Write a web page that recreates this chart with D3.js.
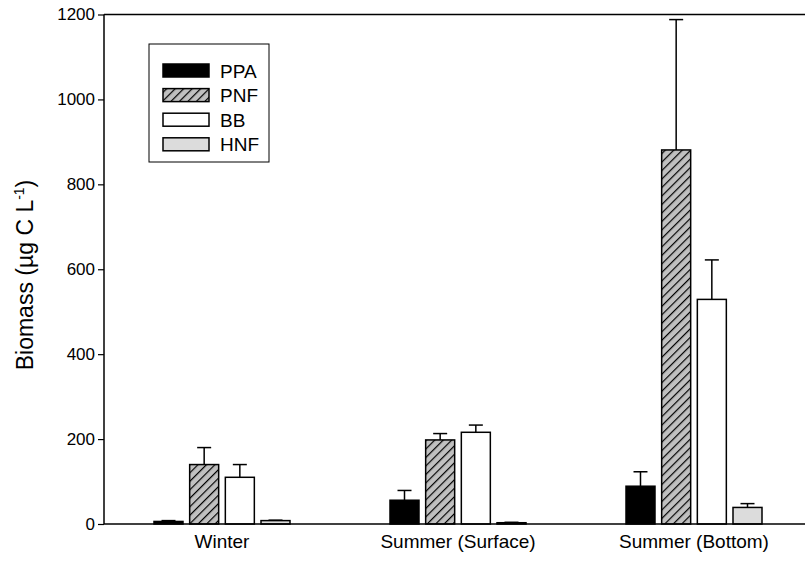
<!DOCTYPE html>
<html>
<head>
<meta charset="utf-8">
<script src="https://cdn.jsdelivr.net/npm/d3@7"></script>
<style>
  html, body { margin: 0; padding: 0; background: #fff; }
  svg { display: block; font-family: "Liberation Sans", Arial, sans-serif; }
</style>
</head>
<body>
<svg id="chart" width="805" height="566"></svg>
<script>
const categories = ["Winter", "Summer (Surface)", "Summer (Bottom)"];
const seriesNames = ["PPA", "PNF", "BB", "HNF"];
const valuesPPA = [6, 56, 89];
const valuesPNF = [140, 198, 881];
const valuesBB  = [110, 216, 529];
const valuesHNF = [8, 3, 39];
const errPPA = [2, 23, 34];
const errPNF = [40, 15, 307];
const errBB  = [30, 17, 93];
const errHNF = [1, 1, 9];
const yTicks = [0, 200, 400, 600, 800, 1000, 1200];

const seriesValues = [valuesPPA, valuesPNF, valuesBB, valuesHNF];
const seriesErrors = [errPPA, errPNF, errBB, errHNF];
const fills = ["#000000", "url(#hatch)", "#ffffff", "#dcdcdc"];

const svg = d3.select("#chart");
const defs = svg.append("defs");
const pat = defs.append("pattern")
  .attr("id", "hatch").attr("patternUnits", "userSpaceOnUse")
  .attr("width", 6).attr("height", 6)
  .attr("patternTransform", "rotate(45)");
pat.append("rect").attr("width", 6).attr("height", 6).attr("fill", "#c0c0c0");
pat.append("line").attr("x1", 0).attr("y1", 0).attr("x2", 0).attr("y2", 6)
  .attr("stroke", "#000").attr("stroke-width", 2.4);

const mLeft = 104, mRight = 812, mTop = 14.5, mBottom = 524;

const x = d3.scaleBand().domain(categories).range([mLeft, mRight]);
const xs = d3.scaleBand().domain(seriesNames).range([0, 136]).paddingInner(0.187);
const y = d3.scaleLinear().domain([0, 1200]).range([mBottom, mTop]);

const data = [];
categories.forEach((c, i) => {
  seriesNames.forEach((s, j) => {
    data.push({cat: c, s: s, j: j, v: seriesValues[j][i], e: seriesErrors[j][i]});
  });
});

const off = (x.bandwidth() - 136) / 2;

// error bars (upper only)
const eg = svg.append("g").attr("stroke", "#000").attr("stroke-width", 1.5);
data.forEach(d => {
  const cx = x(d.cat) + off + xs(d.s) + xs.bandwidth() / 2;
  eg.append("line").attr("x1", cx).attr("x2", cx)
    .attr("y1", y(d.v)).attr("y2", y(d.v + d.e));
  eg.append("line").attr("x1", cx - 7).attr("x2", cx + 7)
    .attr("y1", y(d.v + d.e)).attr("y2", y(d.v + d.e));
});

svg.append("g").selectAll("rect").data(data).join("rect")
  .attr("x", d => x(d.cat) + off + xs(d.s))
  .attr("y", d => y(d.v))
  .attr("width", xs.bandwidth())
  .attr("height", d => y(0) - y(d.v))
  .attr("fill", d => fills[d.j])
  .attr("stroke", "#000").attr("stroke-width", 1.5);

// axes
const yAxis = d3.axisLeft(y).tickValues(yTicks).tickSize(6).tickPadding(3).tickFormat(d3.format("d"));
const gy = svg.append("g").attr("transform", `translate(${mLeft},0)`).call(yAxis);
gy.select(".domain").remove();
gy.selectAll("line").attr("stroke", "#000").attr("stroke-width", 1.2);
gy.selectAll("text").attr("font-size", 17).attr("fill", "#000")
  .attr("font-family", "Liberation Sans, Arial, sans-serif");

svg.append("line").attr("x1", mLeft).attr("x2", mLeft).attr("y1", mTop).attr("y2", mBottom)
  .attr("stroke", "#000").attr("stroke-width", 1.5);
svg.append("line").attr("x1", mLeft).attr("x2", mRight).attr("y1", mTop).attr("y2", mTop)
  .attr("stroke", "#000").attr("stroke-width", 1.5);
svg.append("line").attr("x1", mLeft).attr("x2", mRight).attr("y1", mBottom).attr("y2", mBottom)
  .attr("stroke", "#000").attr("stroke-width", 1.5);

// x labels
svg.append("g").selectAll("text").data(categories).join("text")
  .attr("x", d => x(d) + x.bandwidth() / 2)
  .attr("y", 548)
  .attr("text-anchor", "middle")
  .attr("font-size", 19)
  .text(d => d);

// y title
const yt = svg.append("text")
  .attr("transform", "translate(33,275) rotate(-90)")
  .attr("text-anchor", "middle")
  .attr("font-size", 23);
yt.append("tspan").text("Biomass (µg C L");
yt.append("tspan").attr("dy", -9).attr("font-size", 14).text("-1");
yt.append("tspan").attr("dy", 9).text(")");

// legend
svg.append("rect").attr("x", 149).attr("y", 44).attr("width", 120).attr("height", 118)
  .attr("fill", "#fff").attr("stroke", "#000").attr("stroke-width", 1);
const lg = svg.append("g");
seriesNames.forEach((s, j) => {
  const yy = 64 + j * 24.6;
  lg.append("rect").attr("x", 163).attr("y", yy).attr("width", 46).attr("height", 13)
    .attr("fill", fills[j]).attr("stroke", "#000").attr("stroke-width", 1.5);
  lg.append("text").attr("x", 220).attr("y", yy + 13.5).attr("font-size", 19).text(s);
});
</script>
</body>
</html>
